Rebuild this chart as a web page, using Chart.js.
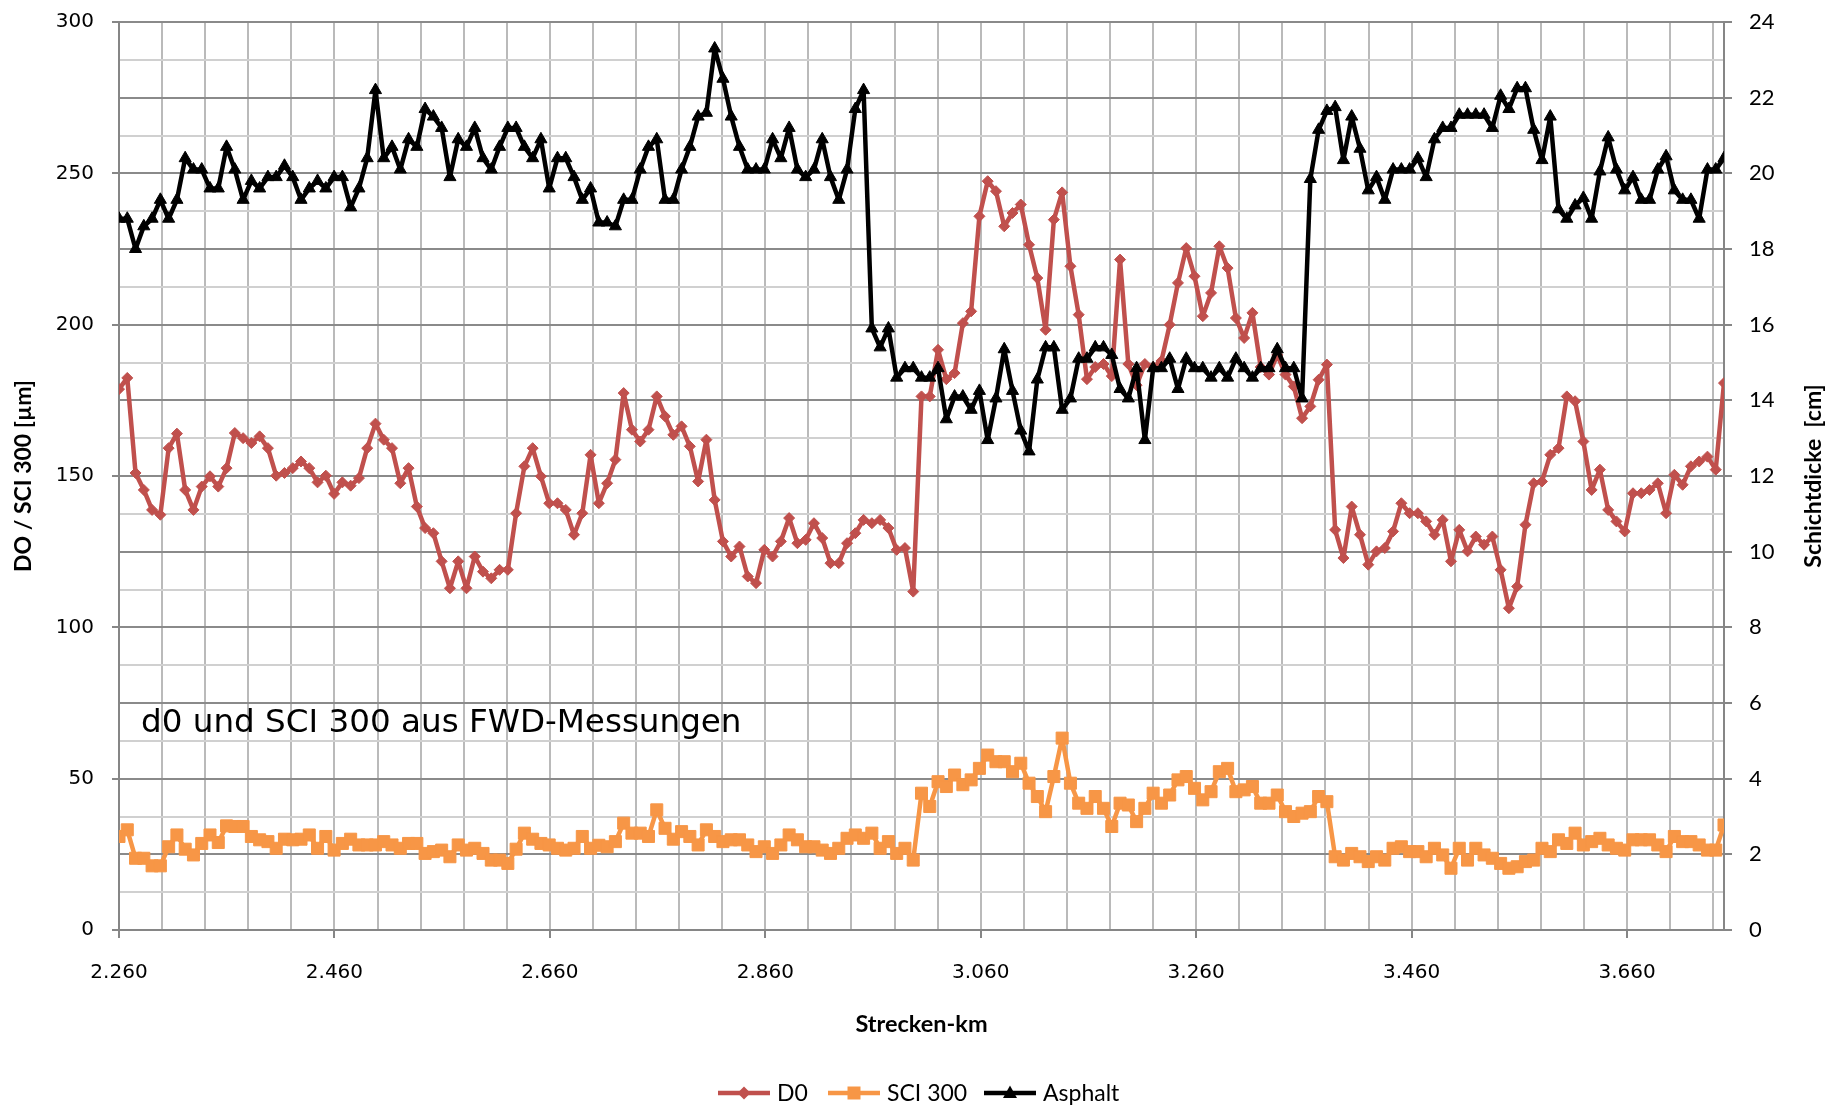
<!DOCTYPE html>
<html lang="de">
<head>
<meta charset="UTF-8">
<title>d0 und SCI 300 aus FWD-Messungen</title>
<script src="https://cdn.jsdelivr.net/npm/chart.js"></script>
<style>
  html, body { margin: 0; padding: 0; background: #fff; }
  .chart-container { width: 1829px; height: 1105px; }
  canvas { display: block; }
</style>
</head>
<body>
<div class="chart-container"><canvas id="fwdChart" width="1829" height="1105"></canvas></div>
<script>
// Messabschnitt (Strecken-km), Messpunkte gleichmaessig verteilt
const kmStart = 2.260;
const kmEnd = 3.750;

// D0 [µm]
const d0Values = [
  178.7, 182.4, 151.0, 145.4, 138.8, 137.2, 159.2, 164.0, 145.4, 138.8,
  146.5, 149.9, 146.5, 152.6, 164.2, 162.5, 160.9, 163.1, 159.2, 150.1,
  151.0, 152.6, 154.8, 152.6, 147.9, 150.1, 144.1, 147.9, 146.8, 149.3,
  159.2, 167.3, 162.0, 159.2, 147.6, 152.6, 139.9, 132.8, 131.1, 121.8,
  112.9, 121.8, 112.9, 123.4, 118.4, 116.2, 119.0, 119.0, 137.7, 153.2,
  159.2, 149.9, 141.0, 141.0, 138.8, 130.6, 137.7, 157.0, 141.0, 147.6,
  155.4, 177.4, 165.3, 161.4, 165.3, 176.3, 169.7, 163.6, 166.4, 159.8,
  148.2, 162.0, 142.1, 128.4, 123.4, 126.7, 116.8, 114.6, 125.6, 123.4,
  128.4, 136.1, 127.8, 128.9, 134.4, 129.5, 121.2, 121.2, 127.8, 131.1,
  135.5, 134.4, 135.5, 132.8, 125.6, 126.2, 111.8, 176.3, 176.3, 191.7,
  182.0, 184.0, 200.5, 204.4, 235.8, 247.4, 244.1, 232.5, 236.9, 239.7,
  226.4, 215.4, 198.3, 234.7, 243.7, 219.3, 203.3, 182.0, 186.0, 187.0,
  183.0, 221.5, 187.0, 180.0, 187.0, 186.0, 188.0, 200.0, 213.8, 225.3,
  216.0, 202.8, 210.5, 225.9, 218.7, 202.2, 195.6, 203.9, 186.0, 183.5,
  190.0, 183.5, 179.6, 169.1, 173.0, 181.8, 186.8, 132.2, 122.9, 139.9,
  130.6, 120.7, 125.1, 126.2, 131.7, 141.0, 137.7, 137.7, 135.0, 130.6,
  135.5, 121.8, 132.2, 125.1, 130.0, 127.3, 130.0, 119.0, 106.3, 113.5,
  133.9, 147.6, 148.2, 157.0, 159.2, 176.3, 174.7, 161.4, 145.4, 152.1,
  138.8, 135.0, 131.7, 144.3, 144.3, 145.4, 147.6, 137.7, 150.4, 147.1,
  153.2, 154.8, 156.4, 152.1, 180.7
];

// SCI 300 [µm]
const sci300Values = [
  30.9, 33.1, 23.7, 23.7, 21.2, 21.2, 27.5, 31.4, 26.7, 24.8,
  28.6, 31.4, 28.9, 34.4, 34.2, 34.2, 30.9, 29.8, 29.2, 27.0,
  30.0, 29.8, 30.0, 31.4, 27.0, 30.9, 26.4, 28.6, 30.0, 28.1,
  28.1, 28.1, 29.2, 28.1, 27.0, 28.6, 28.6, 25.3, 25.9, 26.4,
  24.2, 28.1, 26.4, 27.0, 25.3, 23.1, 23.1, 22.0, 26.7, 32.0,
  30.0, 28.6, 28.1, 27.0, 26.4, 27.0, 30.9, 27.0, 28.0, 27.5,
  29.2, 35.3, 32.0, 32.0, 30.9, 39.7, 33.6, 30.0, 32.5, 30.9,
  28.1, 33.1, 30.9, 29.2, 29.8, 29.8, 28.1, 25.9, 27.5, 25.3,
  28.1, 31.4, 29.8, 27.5, 27.5, 26.4, 25.3, 27.0, 30.3, 31.4,
  30.3, 32.0, 27.0, 29.2, 25.3, 27.0, 23.1, 45.2, 40.8, 49.0,
  47.4, 51.2, 48.0, 49.6, 53.4, 57.8, 55.6, 55.6, 52.3, 55.1,
  48.5, 44.1, 39.1, 50.7, 63.4, 48.5, 41.9, 40.2, 44.1, 40.2,
  34.2, 41.9, 41.3, 35.8, 40.2, 45.2, 41.9, 44.6, 49.6, 50.7,
  46.8, 43.0, 45.7, 52.3, 53.4, 45.7, 46.3, 47.4, 41.9, 41.9,
  44.6, 39.1, 37.5, 38.6, 39.1, 44.1, 42.4, 24.2, 23.1, 25.3,
  24.2, 22.6, 24.2, 23.1, 27.0, 27.5, 25.9, 25.9, 24.2, 27.0,
  24.8, 20.4, 27.0, 23.1, 27.0, 24.8, 23.7, 22.0, 20.4, 20.9,
  22.6, 23.1, 27.0, 25.9, 29.8, 28.6, 32.0, 28.1, 29.2, 30.3,
  28.1, 27.0, 26.4, 29.8, 29.8, 29.8, 28.1, 25.9, 30.9, 29.2,
  29.2, 28.1, 26.4, 26.4, 34.7
];

// Asphalt-Schichtdicke [cm]
const asphaltValues = [
  18.8, 18.8, 18.0, 18.6, 18.8, 19.3, 18.8, 19.3, 20.4, 20.1,
  20.1, 19.6, 19.6, 20.7, 20.1, 19.3, 19.8, 19.6, 19.9, 19.9,
  20.2, 19.9, 19.3, 19.6, 19.8, 19.6, 19.9, 19.9, 19.1, 19.6,
  20.4, 22.2, 20.4, 20.7, 20.1, 20.9, 20.7, 21.7, 21.5, 21.2,
  19.9, 20.9, 20.7, 21.2, 20.4, 20.1, 20.7, 21.2, 21.2, 20.7,
  20.4, 20.9, 19.6, 20.4, 20.4, 19.9, 19.3, 19.6, 18.7, 18.7,
  18.6, 19.3, 19.3, 20.1, 20.7, 20.9, 19.3, 19.3, 20.1, 20.7,
  21.5, 21.6, 23.3, 22.5, 21.5, 20.7, 20.1, 20.1, 20.1, 20.9,
  20.4, 21.2, 20.1, 19.9, 20.1, 20.9, 19.9, 19.3, 20.1, 21.7,
  22.2, 15.9, 15.4, 15.9, 14.6, 14.85, 14.85, 14.6, 14.6, 14.85,
  13.5, 14.1, 14.1, 13.75, 14.25, 12.95, 14.05, 15.35, 14.25, 13.2,
  12.65, 14.55, 15.4, 15.4, 13.75, 14.05, 15.1, 15.1, 15.4, 15.4,
  15.2, 14.3, 14.05, 14.85, 12.95, 14.85, 14.85, 15.1, 14.3, 15.1,
  14.85, 14.85, 14.6, 14.85, 14.6, 15.1, 14.85, 14.6, 14.85, 14.85,
  15.35, 14.85, 14.85, 14.05, 19.85, 21.15, 21.65, 21.75, 20.35, 21.5,
  20.65, 19.55, 19.9, 19.3, 20.1, 20.1, 20.1, 20.4, 19.9, 20.9,
  21.2, 21.2, 21.55, 21.55, 21.55, 21.55, 21.2, 22.05, 21.7, 22.25,
  22.25, 21.15, 20.35, 21.5, 19.05, 18.8, 19.15, 19.35, 18.8, 20.05,
  20.95, 20.1, 19.55, 19.9, 19.3, 19.3, 20.1, 20.45, 19.55, 19.3,
  19.3, 18.8, 20.1, 20.1, 20.4
];

// Achsen
const xGridStepKm = 0.04;
const xLabelEveryKm = 0.2;
const leftMax = 300, leftGridStep = 12.5, leftLabelStep = 50;
const rightMax = 24, rightStep = 2;

const colD0 = '#C0504D';
const colSci = '#F79646';
const colAsphalt = '#000000';
const gridMajor = '#8a8a8a';
const gridMinor = '#d0d0d0';
const gridVertical = '#bababa';
const axisLine = '#868686';

const step = (kmEnd - kmStart) / (d0Values.length - 1);
const toPoints = vals => vals.map((v, i) => ({ x: kmStart + i * step, y: v }));

const xTicks = [];
for (let k = 0; kmStart + k * xGridStepKm <= kmEnd + 1e-9; k++) {
  xTicks.push(+(kmStart + k * xGridStepKm).toFixed(3));
}
const isXLabel = v => Math.abs(((v - kmStart) / xLabelEveryKm) - Math.round((v - kmStart) / xLabelEveryKm)) < 1e-6;

const leftTicks = [];
for (let v = 0; v <= leftMax; v += leftGridStep) leftTicks.push(v);
const rightTicks = [];
for (let v = 0; v <= rightMax; v += rightStep) rightTicks.push(v);

// feste Breite der y-Achsen, ohne zusaetzlichen Rand oben/unten
const fixYScale = width => scale => {
  scale.width = width;
  scale.paddingTop = 0;
  scale.paddingBottom = 0;
};

// Titel, Achsbeschriftungen und Legende
const textPlugin = {
  id: 'fwdTexts',
  afterDraw(chart) {
    const ctx = chart.ctx;
    const area = chart.chartArea;
    const midY = (area.top + area.bottom) / 2;
    ctx.save();
    ctx.fillStyle = '#000';
    ctx.textBaseline = 'middle';

    ctx.textAlign = 'left';
    ctx.font = '32.6px "DejaVu Sans"';
    ctx.fillText('d0 und SCI 300 aus FWD-Messungen', 141, 724);

    ctx.textAlign = 'center';
    ctx.font = 'bold 23.5px Lato';
    ctx.fillText('Strecken-km', (area.left + area.right) / 2, 1024);

    ctx.font = 'bold 23px Lato';
    ctx.save();
    ctx.translate(24, midY);
    ctx.rotate(-Math.PI / 2);
    ctx.fillText('DO / SCI 300 [µm]', 0, 0);
    ctx.restore();

    ctx.save();
    ctx.translate(1814, midY);
    ctx.rotate(-Math.PI / 2);
    ctx.fillText('Schichtdicke  [cm]', 0, 0);
    ctx.restore();

    // Legende: Linie mit Marker
    const items = [
      { label: 'D0', color: colD0, style: 'diamond', x: 718 },
      { label: 'SCI 300', color: colSci, style: 'square', x: 828 },
      { label: 'Asphalt', color: colAsphalt, style: 'triangle', x: 984 }
    ];
    const ly = 1093;
    ctx.font = '23px Lato';
    ctx.textAlign = 'left';
    items.forEach(it => {
      ctx.strokeStyle = it.color;
      ctx.fillStyle = it.color;
      ctx.lineWidth = 4.5;
      ctx.beginPath();
      ctx.moveTo(it.x, ly);
      ctx.lineTo(it.x + 52, ly);
      ctx.stroke();
      const cx = it.x + 26;
      ctx.beginPath();
      if (it.style === 'diamond') {
        ctx.moveTo(cx - 6.5, ly); ctx.lineTo(cx, ly - 6.5); ctx.lineTo(cx + 6.5, ly); ctx.lineTo(cx, ly + 6.5);
      } else if (it.style === 'square') {
        ctx.rect(cx - 6.5, ly - 6.5, 13, 13);
      } else {
        ctx.moveTo(cx, ly - 7.5); ctx.lineTo(cx + 7, ly + 5); ctx.lineTo(cx - 7, ly + 5);
      }
      ctx.closePath();
      ctx.fill();
      ctx.fillStyle = '#000';
      ctx.fillText(it.label, it.x + 59, ly + 1);
    });
    ctx.restore();
  }
};

Chart.defaults.font.family = '"DejaVu Sans", sans-serif';
Chart.defaults.color = '#000';

new Chart(document.getElementById('fwdChart'), {
  type: 'line',
  data: {
    datasets: [
      {
        label: 'D0',
        data: toPoints(d0Values),
        yAxisID: 'y',
        borderColor: colD0,
        backgroundColor: colD0,
        borderWidth: 4.5,
        pointStyle: 'rectRot',
        pointRadius: 5.5,
        pointBorderWidth: 1,
        order: 1
      },
      {
        label: 'SCI 300',
        data: toPoints(sci300Values),
        yAxisID: 'y',
        borderColor: colSci,
        backgroundColor: colSci,
        borderWidth: 4.5,
        pointStyle: 'rect',
        pointRadius: 8.5,
        pointBorderWidth: 1,
        order: 2
      },
      {
        label: 'Asphalt',
        data: toPoints(asphaltValues),
        yAxisID: 'y2',
        borderColor: colAsphalt,
        backgroundColor: colAsphalt,
        borderWidth: 4.5,
        pointStyle: 'triangle',
        pointRadius: 7,
        pointBorderWidth: 1,
        order: 0
      }
    ]
  },
  options: {
    responsive: false,
    maintainAspectRatio: false,
    devicePixelRatio: 1,
    animation: false,
    events: [],
    layout: { autoPadding: false, padding: { top: 22, left: 0, right: 0, bottom: 0 } },
    elements: {
      line: { tension: 0, borderJoinStyle: 'round', borderCapStyle: 'round' }
    },
    plugins: {
      legend: { display: false },
      title: { display: false },
      tooltip: { enabled: false }
    },
    scales: {
      x: {
        type: 'linear',
        min: kmStart,
        max: kmEnd,
        afterBuildTicks: scale => { scale.ticks = xTicks.map(v => ({ value: v })); },
        afterFit: scale => { scale.height = 175; },
        grid: {
          color: gridVertical,
          lineWidth: 2,
          tickLength: 8,
          tickColor: c => (c.tick && isXLabel(c.tick.value)) ? axisLine : 'rgba(0,0,0,0)'
        },
        border: { color: axisLine, width: 2 },
        ticks: {
          autoSkip: false,
          maxRotation: 0,
          padding: 23,
          font: { size: 20 },
          callback: v => isXLabel(v) ? v.toFixed(3) : ''
        }
      },
      y: {
        position: 'left',
        min: 0,
        max: leftMax,
        afterBuildTicks: scale => { scale.ticks = leftTicks.map(v => ({ value: v })); },
        afterFit: fixYScale(119),
        grid: {
          color: c => (c.tick && c.tick.value % 25 === 0) ? gridMajor : gridMinor,
          lineWidth: 2,
          tickLength: 7,
          tickColor: c => (c.tick && c.tick.value % leftLabelStep === 0) ? axisLine : 'rgba(0,0,0,0)'
        },
        border: { color: axisLine, width: 2 },
        ticks: {
          autoSkip: false,
          padding: 18,
          font: { size: 20 },
          callback: v => v % leftLabelStep === 0 ? String(v) : ''
        }
      },
      y2: {
        position: 'right',
        min: 0,
        max: rightMax,
        afterBuildTicks: scale => { scale.ticks = rightTicks.map(v => ({ value: v })); },
        afterFit: fixYScale(105),
        grid: {
          drawOnChartArea: false,
          tickLength: 8,
          lineWidth: 2,
          tickColor: axisLine
        },
        border: { color: axisLine, width: 2 },
        ticks: {
          autoSkip: false,
          padding: 17,
          font: { family: 'Lato', size: 22 },
          callback: v => String(v)
        }
      }
    }
  },
  plugins: [textPlugin]
});
</script>
</body>
</html>
